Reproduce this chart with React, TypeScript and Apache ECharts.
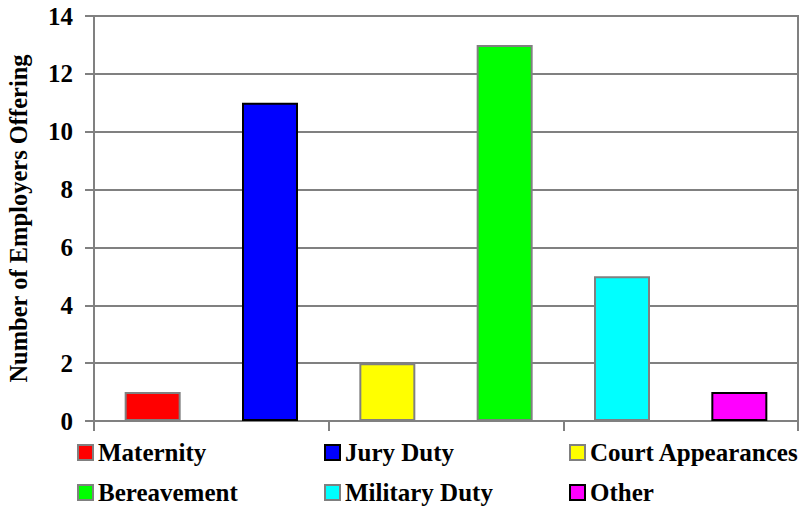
import React, { useEffect, useRef } from "react";
import * as echarts from "echarts";

const categories = ["Maternity", "Jury Duty", "Court Appearances", "Bereavement", "Military Duty", "Other"];
const values = [1, 11, 2, 13, 5, 1];
const fillColors = ["#FF0000", "#0000FF", "#FFFF00", "#00FF00", "#00FFFF", "#FF00FF"];
const borderColors = ["#808080", "#000000", "#808080", "#808080", "#808080", "#000000"];
const yTicks = { min: 0, max: 14, interval: 2 };
const yTitle = "Number of Employers Offering";

// legend layout: [left, top]
const legendPos: [number, number][] = [
  [77, 440],
  [324, 440],
  [569, 440],
  [77, 480],
  [324, 480],
  [569, 480],
];

const FONT = '"Liberation Serif", "Times New Roman", serif';

export default function App() {
  const ref = useRef<HTMLDivElement>(null);
  useEffect(() => {
    if (!ref.current) return;
    const chart = echarts.init(ref.current, undefined, { renderer: "svg" });
    const series = categories.map((name, i) => ({
      name,
      type: "bar",
      stack: "all",
      barWidth: 56,
      data: categories.map((_, j) => (j === i ? values[i] : "-")),
      itemStyle: { color: fillColors[i], borderColor: borderColors[i], borderWidth: 2 },
    }));
    const legends = categories.map((name, i) => ({
      data: [name],
      left: legendPos[i][0],
      top: legendPos[i][1],
      padding: 0,
      itemWidth: 15,
      itemHeight: 15,
      itemGap: 5,
      icon: "rect",
      selectedMode: false,
      itemStyle: { borderColor: borderColors[i], borderWidth: 2 },
      textStyle: { fontFamily: FONT, fontWeight: "bold", fontSize: 25, color: "#000" },
    }));
    chart.setOption({
      animation: false,
      backgroundColor: "#fff",
      grid: {
        left: 94,
        right: 8,
        top: 16,
        bottom: 87,
        containLabel: false,
        outerBoundsMode: "none",
        show: true,
        borderColor: "#808080",
        borderWidth: 2,
      },
      legend: legends,
      xAxis: {
        type: "category",
        data: categories,
        axisLabel: { show: false },
        axisLine: { lineStyle: { color: "#808080", width: 2 } },
        axisTick: { show: true, length: 10, lineStyle: { color: "#808080", width: 2 } },
        splitLine: { show: false },
      },
      yAxis: {
        type: "value",
        min: yTicks.min,
        max: yTicks.max,
        interval: yTicks.interval,
        name: yTitle,
        nameLocation: "middle",
        nameGap: 63,
        nameRotate: 90,
        nameTextStyle: { fontFamily: FONT, fontWeight: "bold", fontSize: 24.5, color: "#000" },
        axisLine: { show: true, lineStyle: { color: "#808080", width: 2 } },
        axisTick: { show: true, length: 9, lineStyle: { color: "#808080", width: 2 } },
        axisLabel: { fontFamily: FONT, fontWeight: "bold", fontSize: 25, color: "#000", margin: 21 },
        splitLine: { show: true, lineStyle: { color: "#808080", width: 2 } },
      },
      series,
    });
    return () => chart.dispose();
  }, []);
  return <div ref={ref} style={{ position: "fixed", left: 0, top: 0, width: 806, height: 508 }} />;
}
